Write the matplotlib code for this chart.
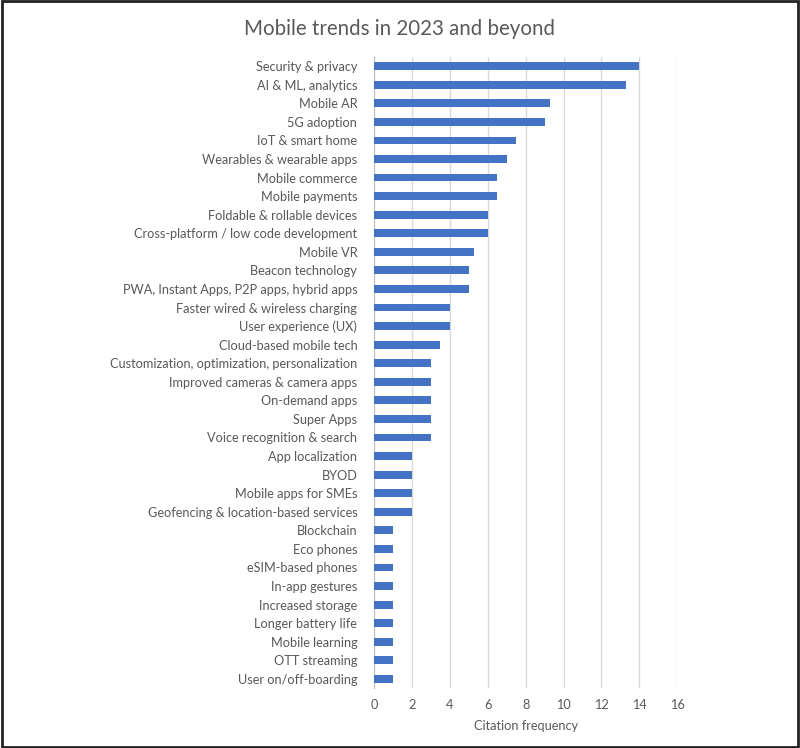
import numpy as np
import matplotlib.pyplot as plt

plt.rcParams['font.family'] = ['Lato', 'DejaVu Sans']

trends = [
    'Security & privacy', 'AI & ML, analytics', 'Mobile AR', '5G adoption',
    'IoT & smart home', 'Wearables & wearable apps', 'Mobile commerce',
    'Mobile payments', 'Foldable & rollable devices',
    'Cross-platform / low code development', 'Mobile VR', 'Beacon technology',
    'PWA, Instant Apps, P2P apps, hybrid apps', 'Faster wired & wireless charging',
    'User experience (UX)', 'Cloud-based mobile tech',
    'Customization, optimization, personalization',
    'Improved cameras & camera apps', 'On-demand apps', 'Super Apps',
    'Voice recognition & search', 'App localization', 'BYOD',
    'Mobile apps for SMEs', 'Geofencing & location-based services',
    'Blockchain', 'Eco phones', 'eSIM-based phones', 'In-app gestures',
    'Increased storage', 'Longer battery life', 'Mobile learning',
    'OTT streaming', 'User on/off-boarding',
]
freq = [14, 13.3, 9.3, 9, 7.5, 7, 6.5, 6.5, 6, 6, 5.3, 5, 5, 4, 4, 3.5,
        3, 3, 3, 3, 3, 2, 2, 2, 2, 1, 1, 1, 1, 1, 1, 1, 1, 1]
xticks = [0, 2, 4, 6, 8, 10, 12, 14, 16]

grey = '#595959'
fig = plt.figure(figsize=(8, 7.48), dpi=100)
ax = fig.add_axes([0.4675, 0.08, 0.379, 0.844])

y = np.arange(len(trends))
ax.barh(y, freq, height=0.42, color='#4472C4', zorder=3)
ax.set_ylim(len(trends) - 0.5, -0.5)
ax.set_xlim(0, 16)
ax.set_xticks(xticks)
ax.set_yticks(y)
ax.set_yticklabels(trends)
ax.tick_params(axis='y', length=0, pad=12, labelsize=9.2, labelcolor=grey)
ax.tick_params(axis='x', length=0, pad=8, labelsize=9.2, labelcolor=grey)
ax.grid(axis='x', color='#d9d9d9', linewidth=1, zorder=0)
for s in ['top', 'right', 'bottom']:
    ax.spines[s].set_visible(False)
ax.spines['left'].set_color('#bfbfbf')
ax.set_xlabel('Citation frequency', fontsize=9.2, color=grey, labelpad=6)

fig.suptitle('Mobile trends in 2023 and beyond', fontsize=14.8, color=grey, y=0.975)

# outer frame
fig.patches.append(plt.Rectangle((0.002, 0.002), 0.996, 0.996, transform=fig.transFigure,
                                 fill=False, edgecolor='#222222', linewidth=2))

fig.savefig('out.png', dpi=100)
